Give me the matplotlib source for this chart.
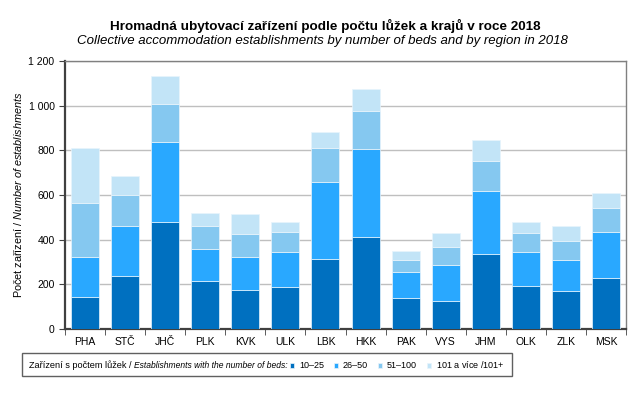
import numpy as np
import matplotlib.pyplot as plt
from matplotlib.patches import Rectangle
from matplotlib.ticker import FuncFormatter

plt.rcParams['font.family'] = ['Liberation Sans', 'DejaVu Sans']
plt.rcParams['mathtext.fontset'] = 'custom'
plt.rcParams['mathtext.rm'] = 'Liberation Sans'
plt.rcParams['mathtext.it'] = 'Liberation Sans:italic'

# regions and counts of establishments by bed size group
regions = ["PHA", "STČ", "JHČ", "PLK", "KVK", "ULK", "LBK",
           "HKK", "PAK", "VYS", "JHM", "OLK", "ZLK", "MSK"]
beds_10_25 = [145, 237, 479, 216, 173, 187, 313, 412, 140, 127, 337, 194, 169, 228]
beds_26_50 = [177, 226, 360, 142, 149, 159, 347, 395, 117, 161, 282, 152, 141, 208]
beds_51_100 = [242, 138, 167, 105, 105, 90, 152, 168, 53, 81, 135, 85, 86, 107]
beds_101 = [245, 84, 127, 56, 88, 43, 70, 98, 39, 61, 92, 48, 67, 64]

series = [beds_10_25, beds_26_50, beds_51_100, beds_101]
labels = ["10–25", "26–50", "51–100", r"101 a více /$\mathit{101}$+"]
colors = ["#0070C0", "#29A8FF", "#85C8F0", "#C2E4F7"]

W, H = 638, 397
fig = plt.figure(figsize=(W / 100, H / 100), dpi=100)
ax = fig.add_axes([65 / W, 1 - 329 / H, (626 - 65) / W, (329 - 61) / H])

x = np.arange(len(regions))
bottom = np.zeros(len(regions))
handles = []
for vals, col in zip(series, colors):
    b = ax.bar(x, vals, 0.7, bottom=bottom, color=col, edgecolor="#E8F4FC",
               linewidth=0.5, zorder=3)
    handles.append(b)
    bottom += np.array(vals)

ax.set_xlim(-0.5, len(regions) - 0.5)
ax.set_ylim(0, 1200)
ax.set_yticks(np.arange(0, 1201, 200))
ax.yaxis.set_major_formatter(FuncFormatter(lambda v, p: f"{int(v):,}".replace(",", " ")))
ax.yaxis.grid(True, color="#BFBFBF", linewidth=1, zorder=0)
ax.set_xticks(x)
ax.set_xticklabels(regions)
ax.set_xticks(np.arange(-0.5, len(regions)), minor=True)
ax.tick_params(axis="x", which="major", length=0, labelsize=7.5, pad=6)
ax.tick_params(axis="x", which="minor", length=4, color="#404040")
ax.tick_params(axis="y", length=4, labelsize=7.5, color="#404040")

for side in ["left", "bottom"]:
    ax.spines[side].set_color("#404040")
    ax.spines[side].set_linewidth(1.6)
for side in ["top", "right"]:
    ax.spines[side].set_color("#808080")
    ax.spines[side].set_linewidth(1)

ax.set_ylabel(r"Počet zařízení / $\mathit{Number\ of\ establishments}$", fontsize=7.8, labelpad=3)

fig.text(325 / W, 1 - 26 / H, "Hromadná ubytovací zařízení podle počtu lůžek a krajů v roce 2018",
         ha="center", va="center", fontsize=9.7, fontweight="bold")
fig.text(322 / W, 1 - 41 / H, "Collective accommodation establishments by number of beds and by region in 2018",
         ha="center", va="center", fontsize=9.5, style="italic")

# legend box
fig.add_artist(Rectangle((22 / W, 1 - 376 / H), (512 - 22) / W, (376 - 353) / H,
                         transform=fig.transFigure, facecolor="white",
                         edgecolor="#606060", linewidth=1))
t1 = fig.text(29 / W, 1 - 365 / H, "Zařízení s počtem lůžek / ",
              ha="left", va="center", fontsize=6.6)
fig.canvas.draw()
bb = t1.get_window_extent()
fig.text(bb.x1 / W, 1 - 365 / H, "Establishments with the number of beds:",
         ha="left", va="center", fontsize=6.15, style="italic")
fig.legend(handles, labels, ncol=4, loc="center left",
           bbox_to_anchor=(290 / W, 1 - 365 / H), frameon=False, fontsize=6.5,
           handlelength=0.45, handleheight=0.45, handletextpad=0.55,
           columnspacing=1.1, borderpad=0, borderaxespad=0)

fig.savefig("out.png", dpi=100)
